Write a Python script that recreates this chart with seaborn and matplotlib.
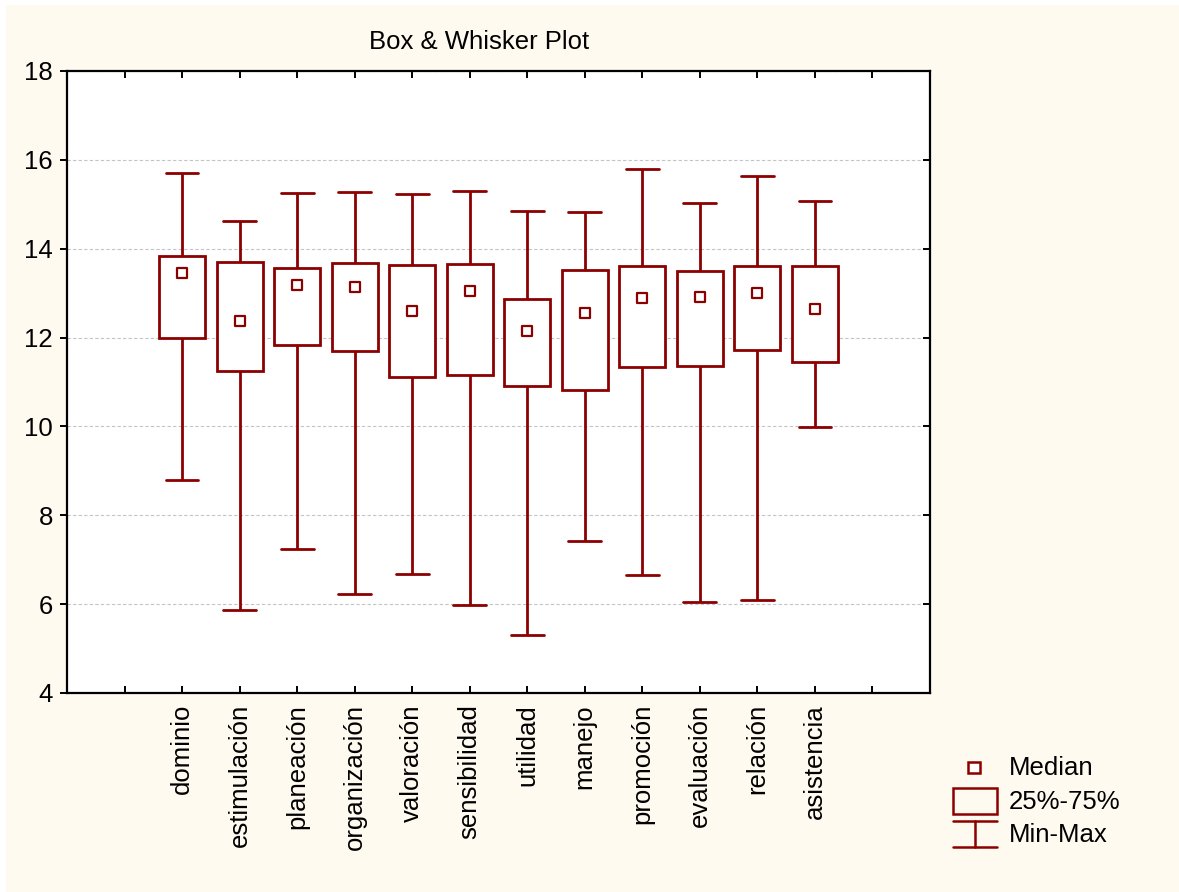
import numpy as np
import pandas as pd
import matplotlib
matplotlib.use("Agg")
import matplotlib.pyplot as plt
from matplotlib.patches import Rectangle
from matplotlib.lines import Line2D
import seaborn as sns

# Scale names and their five-number summaries
categories = ["dominio", "estimulación", "planeación", "organización", "valoración",
              "sensibilidad", "utilidad", "manejo", "promoción", "evaluación",
              "relación", "asistencia"]
mins    = [8.79, 5.87, 7.24, 6.23, 6.68, 5.98, 5.31, 7.42, 6.66, 6.05, 6.09, 9.99]
q1      = [11.98, 11.25, 11.84, 11.70, 11.12, 11.16, 10.91, 10.82, 11.34, 11.37, 11.71, 11.44]
medians = [13.45, 12.37, 13.18, 13.13, 12.59, 13.05, 12.15, 12.55, 12.90, 12.91, 13.00, 12.64]
q3      = [13.84, 13.71, 13.56, 13.68, 13.63, 13.66, 12.87, 13.52, 13.61, 13.50, 13.61, 13.61]
maxs    = [15.71, 14.62, 15.25, 15.27, 15.23, 15.30, 14.85, 14.83, 15.79, 15.03, 15.64, 15.08]
y_ticks = [4, 6, 8, 10, 12, 14, 16, 18]

RED = "#8B0000"
CREAM = "#FFFAF0"
FS = 18.5

sns.set_theme(style="white")
plt.rcParams["font.family"] = ["Liberation Sans", "DejaVu Sans"]

W, H = 1179, 892
fig = plt.figure(figsize=(W / 100, H / 100), dpi=100, facecolor=CREAM)


def fx(px):
    return px / W


def fy(py):
    return 1 - py / H


# thin white strips along the left and top edges
fig.patches.append(Rectangle((0, 0), fx(6), 1, transform=fig.transFigure,
                             facecolor="white", edgecolor="none", zorder=-10))
fig.patches.append(Rectangle((0, fy(5)), 1, 1 - fy(5), transform=fig.transFigure,
                             facecolor="white", edgecolor="none", zorder=-10))

ax = fig.add_axes([fx(67), fy(693), fx(930) - fx(67), fy(71) - fy(693)])
ax.set_facecolor("white")

# Five values per column give exactly min / Q1 / median / Q3 / max
df = pd.DataFrame({c: [mins[i], q1[i], medians[i], q3[i], maxs[i]]
                   for i, c in enumerate(categories)})

sns.boxplot(data=df, ax=ax, whis=(0, 100), width=0.8, color="white",
            linecolor=RED, linewidth=2.0, saturation=1,
            medianprops={"visible": False}, capwidths=0.57, zorder=3)

sns.scatterplot(x=list(range(len(categories))), y=medians, ax=ax, marker="s",
                s=62, color="white", edgecolor=RED, linewidth=1.6, zorder=5)

ax.set_xlim(-2, len(categories) + 1)
ax.set_ylim(4, 18)
ax.set_xticks(range(-1, len(categories) + 1))
ax.set_xticklabels([""] + categories + [""], rotation=90, fontsize=FS)
ax.set_yticks(y_ticks)
ax.set_yticklabels([str(v) for v in y_ticks], fontsize=FS)
ax.set_xlabel("")
ax.set_ylabel("")

ax.grid(axis="y", linestyle=(0, (3, 2)), color="#c4c4c4", linewidth=0.8, zorder=0)
ax.grid(axis="x", visible=False)
ax.set_axisbelow(True)

for s in ax.spines.values():
    s.set_visible(True)
    s.set_color("black")
    s.set_linewidth(1.6)

ax.tick_params(axis="x", which="major", direction="in", length=5, width=1.4,
               color="black", top=True, bottom=True, pad=8, labelcolor="black")
ax.tick_params(axis="y", which="major", direction="in", length=5, width=1.4,
               color="black", right=True, left=True, labelleft=True,
               labelcolor="black", pad=10)
for t in ax.yaxis.get_major_ticks():
    t.tick1line.set_marker(matplotlib.markers.TICKLEFT)

fig.text(fx(479), fy(42), "Box & Whisker Plot", ha="center", va="center",
         fontsize=FS, color="black")

# Key in the lower right corner
lw = 1.8
fig.patches.append(Rectangle((fx(968), fy(773)), fx(980) - fx(968), fy(762) - fy(773),
                             transform=fig.transFigure, facecolor="white",
                             edgecolor=RED, linewidth=lw))
fig.patches.append(Rectangle((fx(953), fy(814)), fx(997) - fx(953), fy(788) - fy(814),
                             transform=fig.transFigure, facecolor="none",
                             edgecolor=RED, linewidth=lw))
for xs, ys in [((953, 997), (821, 821)), ((953, 997), (847, 847)), ((975, 975), (821, 847))]:
    fig.lines.append(Line2D([fx(x) for x in xs], [fy(y) for y in ys],
                            transform=fig.transFigure, color=RED, linewidth=lw))
for label, py in [("Median", 768), ("25%-75%", 802), ("Min-Max", 835)]:
    fig.text(fx(1009), fy(py), label, ha="left", va="center", fontsize=FS, color="black")

fig.savefig("out.png", dpi=100, facecolor=fig.get_facecolor())
